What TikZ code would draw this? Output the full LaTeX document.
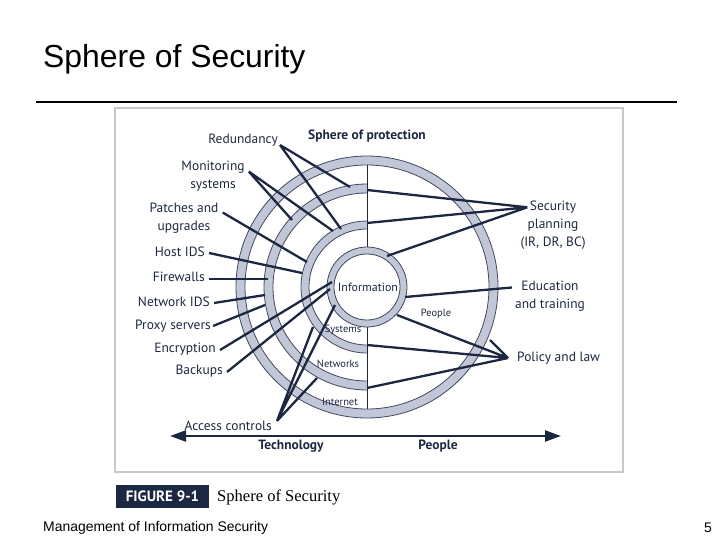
\documentclass[tikz,border=0pt]{standalone}
\usepackage{fontspec}
\setmainfont{Liberation Sans}
\newfontfamily\figfont{PT Sans}
\newfontfamily\capfont{Liberation Serif}
\usetikzlibrary{arrows.meta}
\definecolor{navy}{RGB}{28,40,66}
\definecolor{ringgray}{RGB}{194,199,216}
\definecolor{framegray}{RGB}{200,200,200}

\begin{document}
\begin{tikzpicture}[x=1bp,y=-1bp,
  lbl/.style={font=\figfont\fontsize{13.5}{18.3}\selectfont,text=navy,inner sep=0pt},
  blbl/.style={font=\figfont\bfseries\fontsize{13.5}{15}\selectfont,text=navy,inner sep=0pt},
  small/.style={font=\figfont\fontsize{10.5}{12}\selectfont,text=navy,inner sep=0pt},
  conn/.style={navy,line width=2.3bp},
  ring/.style={fill=ringgray,draw=navy!85,line width=0.8bp,even odd rule}]
  \useasboundingbox (0,0) rectangle (720,540);
  % slide frame
  \node[anchor=west,inner sep=0pt,font=\fontsize{32}{36}\selectfont] (title) at (43,59) {Sphere of Security};
  \draw[line width=2bp] (36,102) -- (677,102);
  \node[anchor=west,inner sep=0pt,font=\fontsize{14}{16}\selectfont] (foot) at (43,528) {Management of Information Security};
  \node[anchor=east,inner sep=0pt,font=\fontsize{14}{16}\selectfont] (page) at (712,528) {5};
  \draw[framegray,line width=1.5bp] (115,108) rectangle (623,472);

  % rings
  \coordinate (c) at (367,287);
  \begin{scope}
    \clip (200,140) rectangle (367,430);
    \draw[ring] (c) circle (103) (c) circle (94);
    \draw[ring] (c) circle (66) (c) circle (58);
  \end{scope}
  \draw[ring] (c) circle (131) (c) circle (122);
  \draw[navy,line width=0.9bp] (367,165) -- (367,247) (367,327) -- (367,409);
  \draw[ring] (c) circle (40) (c) circle (33);

  % inner labels
  \node[blbl] (sop) at (367,136) {Sphere of protection};
  \node[lbl,font=\figfont\fontsize{12}{13}\selectfont] (info) at (368,287) {Information};
  \node[small] (ppl) at (436,314) {People};
  \node[small] (sys) at (343,330) {Systems};
  \node[small] (net) at (338,364) {Networks};
  \node[small] (inet) at (340,402) {Internet};

  % ends on the rings
  \coordinate (n1) at (350,187);
  \coordinate (s1) at (341,229);
  \coordinate (n2) at (292,220);
  \coordinate (s2) at (333,231);
  \coordinate (s3) at (307,262);
  \coordinate (s4) at (302,273);
  \coordinate (n3) at (268,279);
  \coordinate (n4) at (265,295);
  \coordinate (n5) at (265,305);
  \coordinate (i1) at (332,282);
  \coordinate (i2) at (330,289);
  \coordinate (s5) at (313,327);
  \coordinate (n6) at (317,378);
  \coordinate (i3) at (335,305);
  \coordinate (nt) at (367,190);
  \coordinate (st) at (367,223);
  \coordinate (i4) at (387,256);
  \coordinate (i5) at (405,297);
  \coordinate (i6) at (397,315);
  \coordinate (sb) at (367,345);
  \coordinate (nb) at (367,388);
  \coordinate (o1) at (490,340);

  % left labels
  \node[lbl,anchor=east] (red) at (278,140) {Redundancy};
  \node[lbl,align=center] (mon) at (213,176) {Monitoring\\systems};
  \node[lbl,align=center] (pat) at (184,218) {Patches and\\upgrades};
  \node[lbl,anchor=east] (hids) at (205,252) {Host IDS};
  \node[lbl,anchor=east] (fw) at (205,277) {Firewalls};
  \node[lbl,anchor=east] (nids) at (210,302) {Network IDS};
  \node[lbl,anchor=east] (proxy) at (211,326) {Proxy servers};
  \node[lbl,anchor=east] (enc) at (216,349) {Encryption};
  \node[lbl,anchor=east] (bak) at (223,371) {Backups};
  \node[lbl,anchor=east] (acc) at (272,426) {Access controls};
  % right labels
  \node[lbl,align=center] (sec) at (553,225) {Security\\planning\\(IR, DR, BC)};
  \node[lbl,align=center] (edu) at (550,296) {Education\\and training};
  \node[lbl,anchor=west] (pol) at (517,358) {Policy and law};

  % connectors
  \draw[conn] ([shift={(2,5)}]red.east) -- (n1) ([shift={(2,5)}]red.east) -- (s1);
  \draw[conn] ([shift={(4,11)}]mon.north east) -- (n2) ([shift={(4,11)}]mon.north east) -- (s2);
  \draw[conn] ([shift={(4,10)}]pat.north east) -- (s3);
  \draw[conn] ([shift={(4,1)}]hids.east) -- (s4);
  \draw[conn] ([shift={(4,2)}]fw.east) -- (n3);
  \draw[conn] ([shift={(4,1)}]nids.east) -- (n4);
  \draw[conn] ([shift={(2,0)}]proxy.east) -- (n5);
  \draw[conn] ([shift={(4,1)}]enc.east) -- (i1);
  \draw[conn] ([shift={(4,1)}]bak.east) -- (i2);
  \draw[conn] ([shift={(5,0)}]acc.north east) -- (s5) ([shift={(5,0)}]acc.north east) -- (n6)
              ([shift={(5,0)}]acc.north east) -- (i3);
  \draw[conn] ([shift={(7,7)}]sec.north west) -- (nt) ([shift={(7,7)}]sec.north west) -- (st)
              ([shift={(7,7)}]sec.north west) -- (i4);
  \draw[conn] ([shift={(-3,7)}]edu.north west) -- (i5);
  \draw[conn] ([shift={(-9,0)}]pol.west) -- (i6) ([shift={(-9,0)}]pol.west) -- (sb)
              ([shift={(-9,0)}]pol.west) -- (nb) ([shift={(-9,0)}]pol.west) -- (o1);

  % axis
  \coordinate (axl) at (170,436);
  \coordinate (axr) at (561,436);
  \draw[conn,{Triangle[length=16bp,width=11bp]}-{Triangle[length=16bp,width=11bp]}] (axl) -- (axr);
  \node[blbl] (tech) at (291,446) {Technology};
  \node[blbl] (peop) at (438,446) {People};

  % caption
  \node[fill=navy,text=white,font=\figfont\bfseries\fontsize{15}{17}\selectfont,
        minimum width=93bp,minimum height=23bp,inner sep=0pt] (fig) at (162.5,496.5) {FIGURE 9-1};
  \node[anchor=west,inner sep=0pt,font=\capfont\fontsize{16.6}{18}\selectfont] (cap) at (217,497) {Sphere of Security};
\end{tikzpicture}
\end{document}
